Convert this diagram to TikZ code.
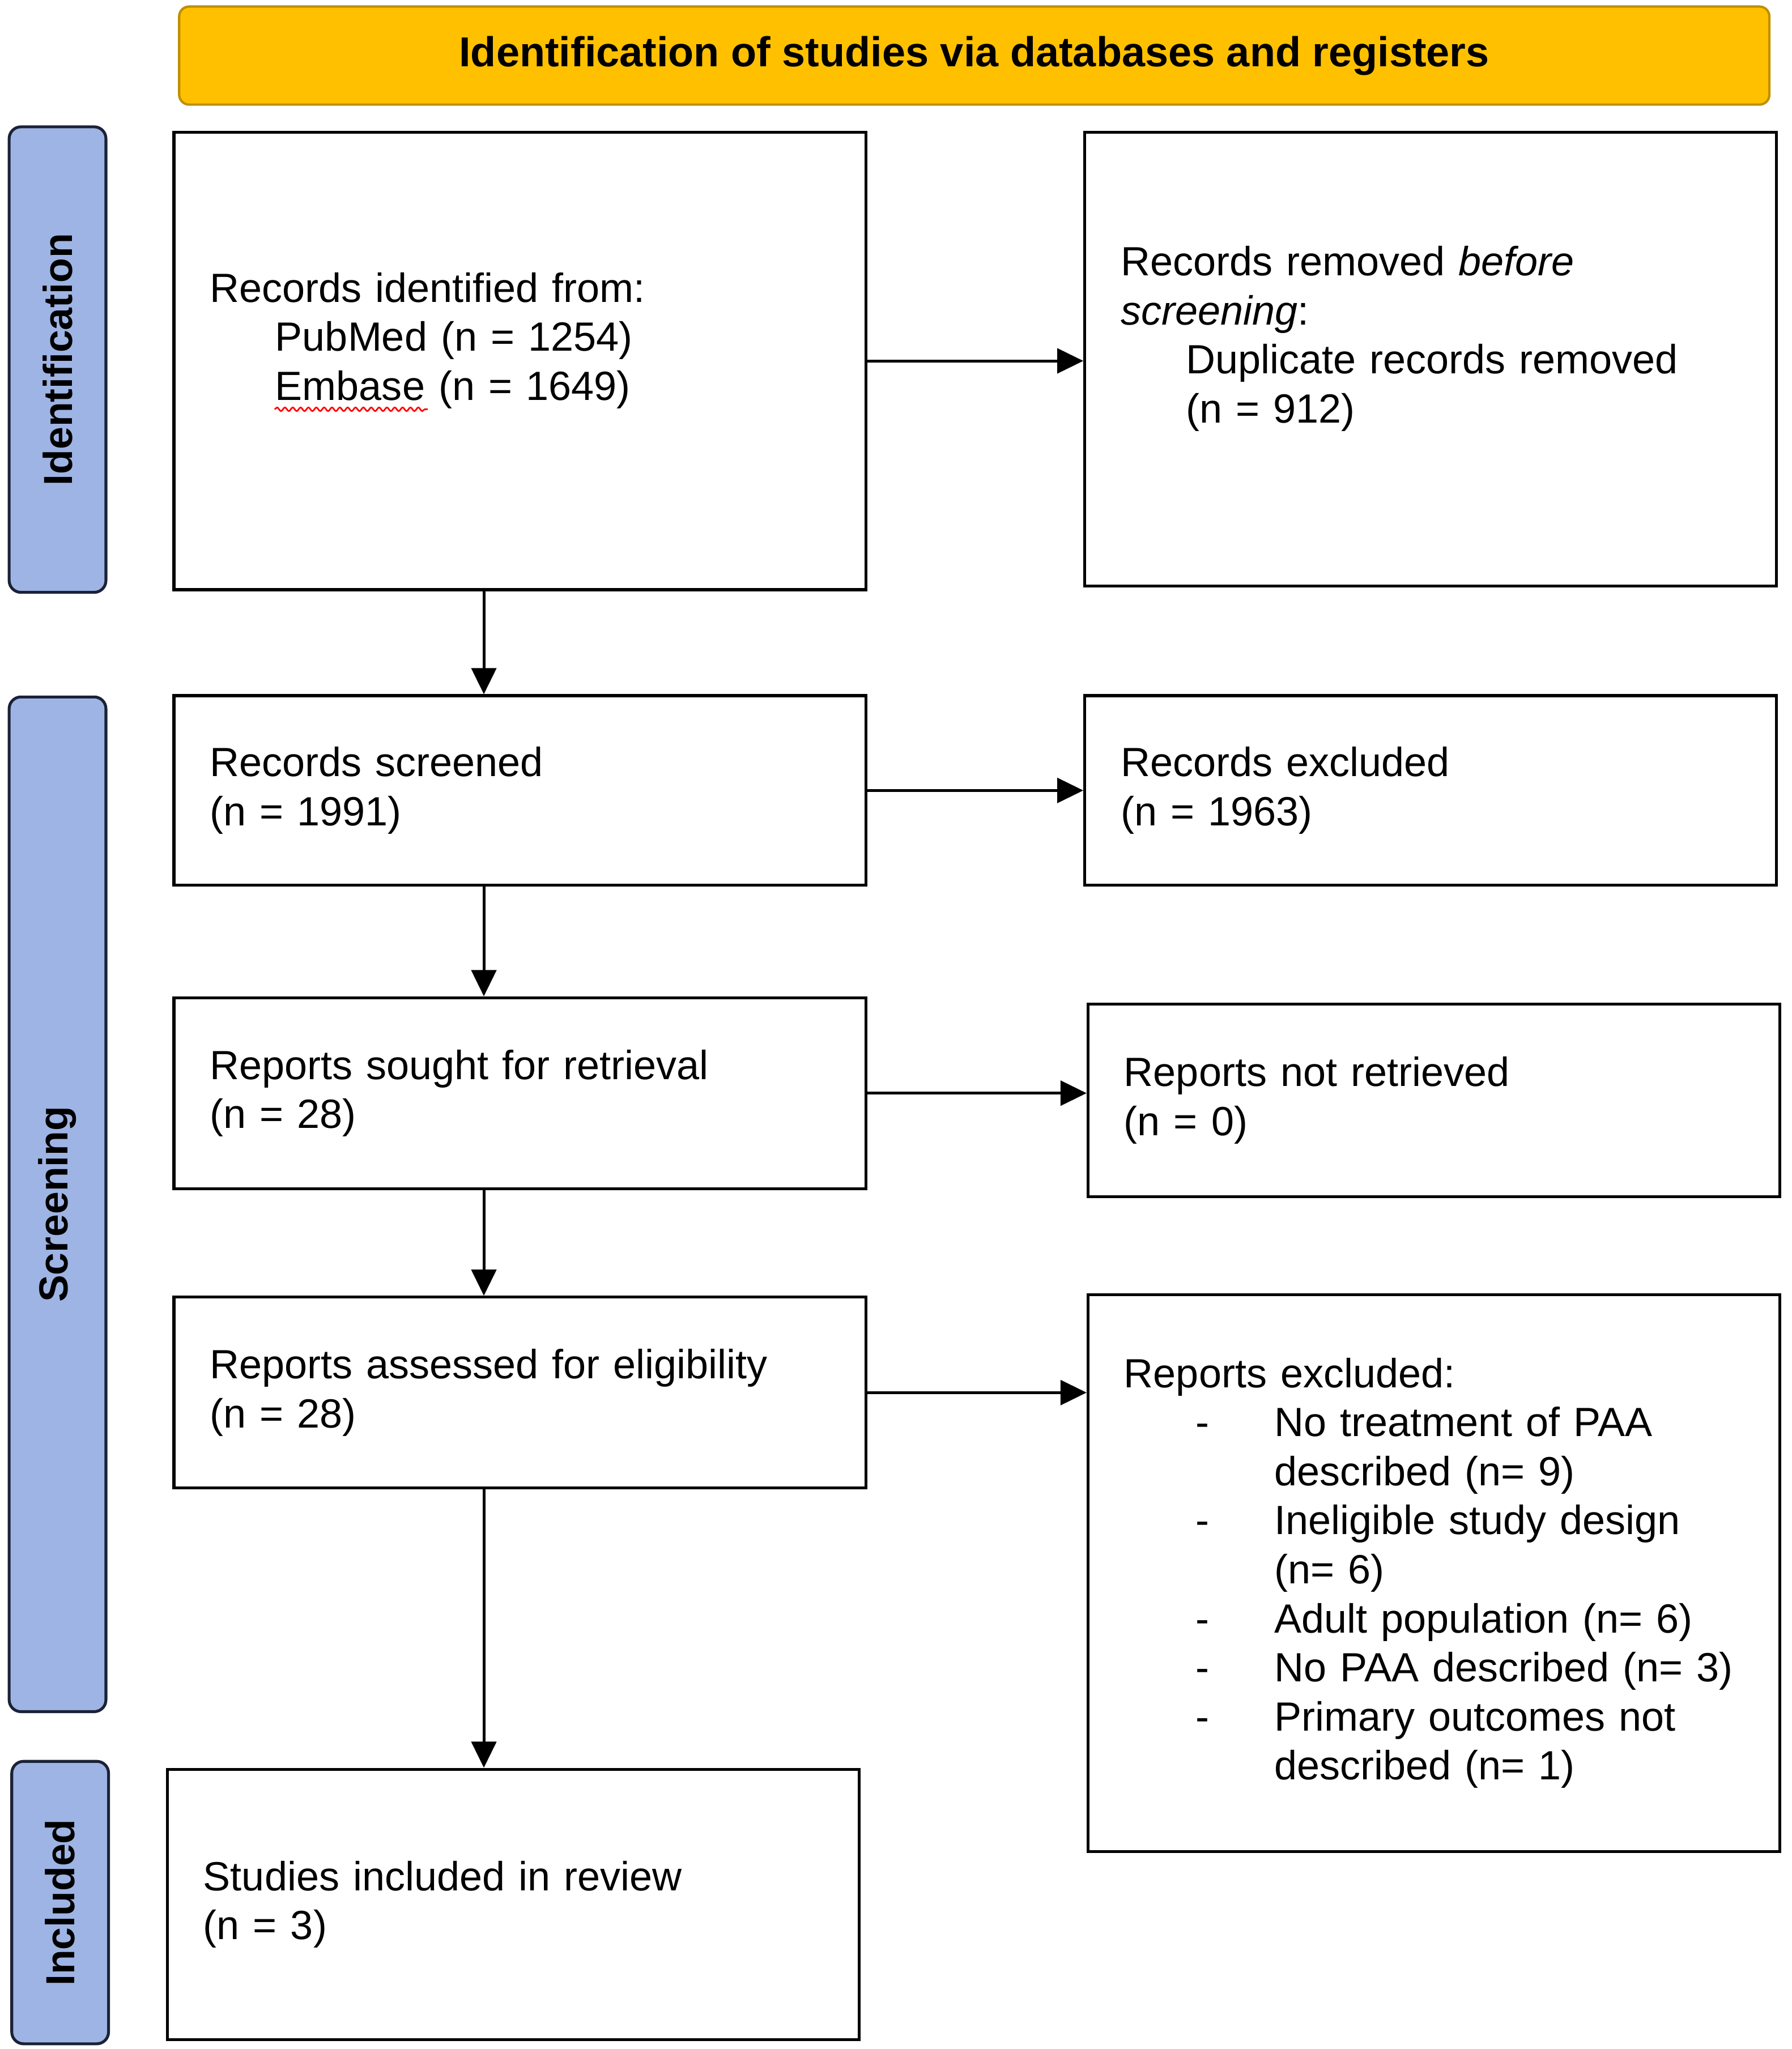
\documentclass[tikz,border=0pt]{standalone}
\usepackage{fontspec}
\setmainfont{Liberation Sans}
\usepackage{xcolor}
\usepackage{tikz}
\usetikzlibrary{shapes,arrows.meta,positioning,decorations.pathmorphing}

\definecolor{bannergold}{HTML}{FFC000}
\definecolor{bannerline}{HTML}{BF8F00}
\definecolor{phaseblue}{RGB}{158,180,228}
\definecolor{phaseline}{HTML}{1B2236}

\begin{document}
\begin{tikzpicture}[
    x=0.5pt, y=-0.5pt,
    every node/.style={font=\fontsize{15.6pt}{18.75pt}\selectfont},
    banner/.style={rectangle, draw=bannerline, line width=0.9pt, fill=bannergold, rounded corners=3.8pt, minimum width=608pt, minimum height=37.5pt, inner sep=0pt, font=\fontsize{16pt}{18.75pt}\selectfont\bfseries},
    phase/.style={rectangle, draw=phaseline, line width=1.1pt, fill=phaseblue, rounded corners=4.5pt, rotate=90, minimum height=37pt, inner sep=0pt, font=\fontsize{15.5pt}{18pt}\selectfont\bfseries},
    box/.style={rectangle, draw, line width=1.1pt, text width=237pt, inner xsep=13.75pt, inner ysep=0pt, align=left},
    flow/.style={line width=1.1pt, -{Triangle[length=10pt, width=9.5pt]}}
]
\useasboundingbox (0,0) rectangle (1370,1567);

\node[banner] (banner) at (745,42.5) {Identification of studies via databases and registers};

\node[phase, minimum width=178pt] (idphase) at (44,275) {Identification};
\node[phase, minimum width=388pt] (scphase) at (44,921) {Screening};
\node[phase, minimum width=108pt] (inphase) at (46,1455) {Included};

\node[box, minimum height=175pt] (identified) at (397.5,276) {Records identified from:\\
    \hspace*{25pt}PubMed (n = 1254)\\
    \hspace*{25pt}Embase (n = 1649)\\ \mbox{}};
\node[box, minimum height=173.5pt] (removed) at (1094,274.5) {Records removed \textit{before}\\
    \textit{screening}:\\
    \hspace*{25pt}Duplicate records removed\\
    \hspace*{25pt}(n = 912)\\ \mbox{}};

\node[box, minimum height=72.5pt] (screened) at (397.5,604.5) {Records screened\\(n = 1991)};
\node[box, minimum height=72.5pt] (excluded) at (1094,604.5) {Records excluded\\(n = 1963)};

\node[box, minimum height=73pt] (sought) at (397.5,836) {Reports sought for retrieval\\(n = 28)};
\node[box, minimum height=73.5pt] (notretrieved) at (1096.5,841.5) {Reports not retrieved\\(n = 0)};

\node[box, minimum height=73pt] (assessed) at (397.5,1065) {Reports assessed for eligibility\\(n = 28)};
\node[box, minimum height=213pt] (reportsout) at (1096.5,1203) {Reports excluded:\\
    \hspace*{27.5pt}\makebox[30pt][l]{-}No treatment of PAA\\
    \hspace*{57.5pt}described (n= 9)\\
    \hspace*{27.5pt}\makebox[30pt][l]{-}Ineligible study design\\
    \hspace*{57.5pt}(n= 6)\\
    \hspace*{27.5pt}\makebox[30pt][l]{-}Adult population (n= 6)\\
    \hspace*{27.5pt}\makebox[30pt][l]{-}No PAA described (n=~3)\\
    \hspace*{27.5pt}\makebox[30pt][l]{-}Primary outcomes not\\
    \hspace*{57.5pt}described (n= 1)};

\node[box, minimum height=103.5pt] (included) at (392.5,1456.5) {Studies included in review\\(n = 3)};

% spell-check underline under Embase
\draw[red, line width=0.6pt, decorate, decoration={snake, amplitude=0.7pt, segment length=3pt}] (210,313) -- (327,313);

\coordinate (spine) at (370,0);
\draw[flow] (identified.south -| spine) -- (screened.north -| spine);
\draw[flow] (screened.south -| spine) -- (sought.north -| spine);
\draw[flow] (sought.south -| spine) -- (assessed.north -| spine);
\draw[flow] (assessed.south -| spine) -- (included.north -| spine);

\draw[flow] (identified.east) -- (identified.east -| removed.west);
\draw[flow] (screened.east) -- (screened.east -| excluded.west);
\draw[flow] (sought.east) -- (sought.east -| notretrieved.west);
\draw[flow] (assessed.east) -- (assessed.east -| reportsout.west);

\end{tikzpicture}
\end{document}
